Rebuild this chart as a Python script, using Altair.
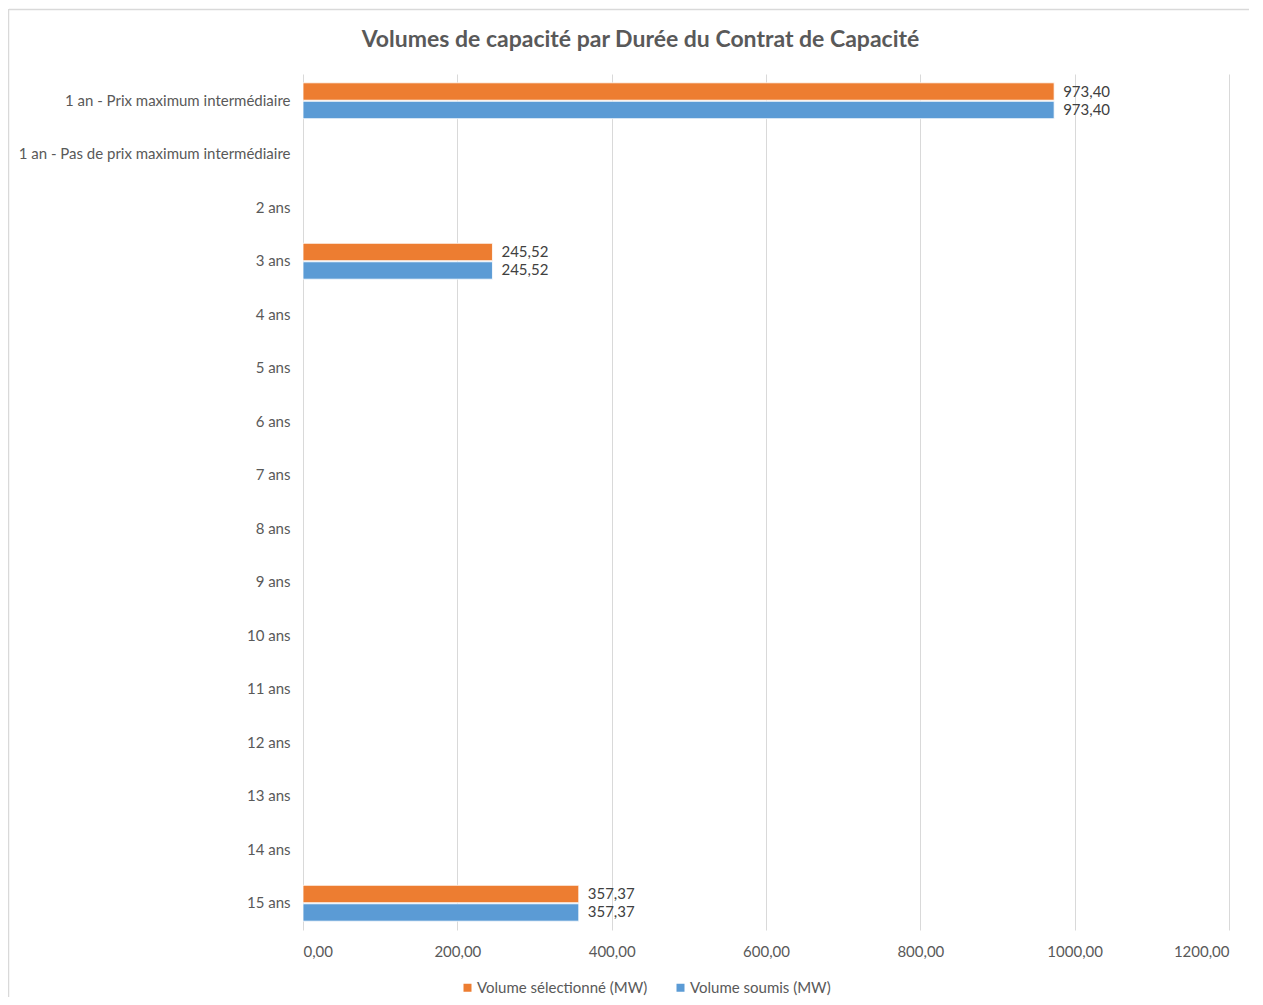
import altair as alt
import pandas as pd

title_text = "Volumes de capacité par Durée du Contrat de Capacité"
categories = [
    "1 an - Prix maximum intermédiaire",
    "1 an - Pas de prix maximum intermédiaire",
    "2 ans", "3 ans", "4 ans", "5 ans", "6 ans", "7 ans", "8 ans",
    "9 ans", "10 ans", "11 ans", "12 ans", "13 ans", "14 ans", "15 ans",
]
series = ["Volume sélectionné (MW)", "Volume soumis (MW)"]
colors = ["#ED7D31", "#5B9BD5"]
vol_selectionne = [973.40, None, None, 245.52, None, None, None, None, None,
                   None, None, None, None, None, None, 357.37]
vol_soumis = [973.40, None, None, 245.52, None, None, None, None, None,
              None, None, None, None, None, None, 357.37]
x_ticks = [0, 200, 400, 600, 800, 1000, 1200]

rows = []
for s, vals in zip(series, [vol_selectionne, vol_soumis]):
    for c, v in zip(categories, vals):
        if v is not None:
            rows.append({"cat": c, "serie": s, "value": v})
df = pd.DataFrame(rows)

FONT = "Lato"
GRAY = "#595959"
FS = 15

y_enc = alt.Y("cat:N", sort=categories,
              scale=alt.Scale(domain=categories, paddingInner=0.33, paddingOuter=0.165),
              axis=alt.Axis(title=None, ticks=False, domain=False, grid=False,
                            labelPadding=13, labelFontSize=FS, labelColor=GRAY,
                            labelFont=FONT, labelLimit=400))
yoff = alt.YOffset("serie:N", sort=series,
                   scale=alt.Scale(domain=series, paddingInner=0.06, paddingOuter=0))

base = alt.Chart(df)

bars = base.mark_bar(stroke="white", strokeWidth=0.8).encode(
    x=alt.X("value:Q",
            scale=alt.Scale(domain=[0, 1200], nice=False),
            axis=alt.Axis(title=None, values=x_ticks, ticks=False, domain=False,
                          grid=True, gridColor="#D9D9D9", gridWidth=1,
                          labelExpr="replace(format(datum.value, '.2f'), '.', ',')",
                          labelPadding=14, labelFontSize=FS, labelColor=GRAY,
                          labelFont=FONT)),
    y=y_enc,
    yOffset=yoff,
    color=alt.Color("serie:N", sort=series,
                    scale=alt.Scale(domain=series, range=colors),
                    legend=alt.Legend(title=None, orient="none", direction="horizontal",
                                      legendX=157, legendY=906,
                                      symbolType="square", symbolSize=64,
                                      symbolStrokeWidth=0,
                                      labelFontSize=FS, labelColor=GRAY, labelFont=FONT,
                                      columnPadding=25, labelOffset=2, labelLimit=400)),
)

labels = base.transform_calculate(
    lbl="replace(format(datum.value, '.2f'), '.', ',')"
).mark_text(align="left", baseline="middle", dx=9, fontSize=FS,
            font=FONT, color="#404040").encode(
    x=alt.X("value:Q"),
    y=alt.Y("cat:N", sort=categories),
    yOffset=yoff,
    text="lbl:N",
)

one = pd.DataFrame({"k": [0]})
frame_top = alt.Chart(one).mark_rule(color="#D9D9D9", strokeWidth=1.5).encode(
    x=alt.value(-294), x2=alt.value(960), y=alt.value(-64.5)
)
frame_left = alt.Chart(one).mark_rule(color="#D9D9D9", strokeWidth=1.5).encode(
    x=alt.value(-294.5), y=alt.value(-65), y2=alt.value(940)
)
title_mark = alt.Chart(one).mark_text(
    font=FONT, fontSize=23, fontWeight="bold", color=GRAY,
    align="center", baseline="middle",
).encode(x=alt.value(337.5), y=alt.value(-34), text=alt.value(title_text))

chart = alt.layer(frame_top, frame_left, title_mark, bars, labels).properties(
    width=926,
    height=856,
    background="white",
    autosize=alt.AutoSizeParams(type="none"),
    padding={"left": 295, "top": 66, "right": 20, "bottom": 67},
).configure_view(stroke="transparent", strokeWidth=0)

chart.save("out.html", embed_options={"renderer": "svg", "actions": False})
